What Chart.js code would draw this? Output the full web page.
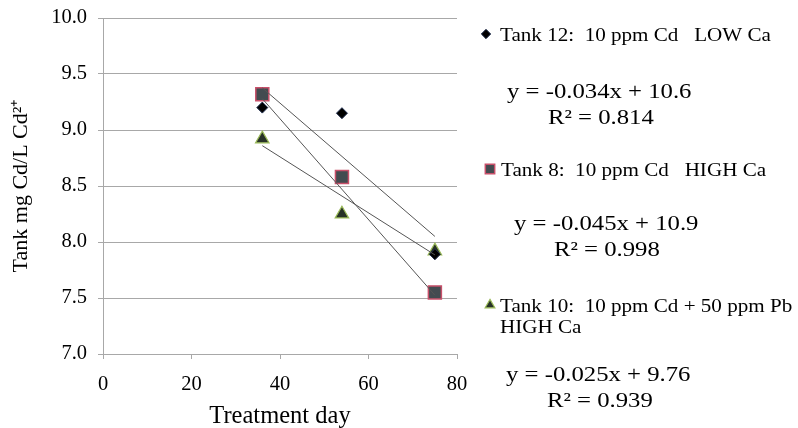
<!DOCTYPE html>
<html>
<head>
<meta charset="utf-8">
<script src="https://cdn.jsdelivr.net/npm/chart.js"></script>
<style>
  html, body { margin: 0; padding: 0; background: #fff; }
  #wrap { width: 798px; height: 428px; }
</style>
</head>
<body>
<div id="wrap"><canvas id="cdChart" width="798" height="428"></canvas></div>
<script>
// Sampling days and Cd concentration per tank
const days = [36, 54, 75];
const tank12 = [9.2, 9.15, 7.89];
const tank8 = [9.32, 8.58, 7.55];
const tank10 = [8.92, 8.25, 7.92];

const seriesNames = [
    'Tank 12:  10 ppm Cd   LOW Ca',
    'Tank 8:  10 ppm Cd   HIGH Ca',
    'Tank 10:  10 ppm Cd + 50 ppm Pb'
];
const seriesNote = ['', '', 'HIGH Ca'];

// linear trendlines (Excel style)
const slopes = [-0.034, -0.045, -0.025];
const intercepts = [10.6, 10.9, 9.76];
const rSquared = [0.814, 0.998, 0.939];

const yTicks = [7.0, 7.5, 8.0, 8.5, 9.0, 9.5, 10.0];
const xTicks = [0, 20, 40, 60, 80];

const serif = "'Liberation Serif', 'Times New Roman', serif";
const gridColor = '#a8a8a8';

const markers = [
    { pointStyle: 'rectRot', radius: 5.5, backgroundColor: '#000000', borderColor: '#1c2a4a', borderWidth: 1 },
    { pointStyle: 'rect', radius: 9.2, backgroundColor: '#434b50', borderColor: '#c8506a', borderWidth: 1.5 },
    { pointStyle: 'triangle', radius: 7.8, backgroundColor: '#283228', borderColor: '#9bbb59', borderWidth: 1.2 }
];

function toPoints(ys) {
    return days.map((d, i) => ({ x: d, y: ys[i] }));
}

function trendPoints(k) {
    const x0 = Math.min(...days), x1 = Math.max(...days);
    return [x0, x1].map(x => ({ x: x, y: slopes[k] * x + intercepts[k] }));
}

const seriesData = [tank12, tank8, tank10];

const datasets = [];
seriesData.forEach((ys, k) => {
    datasets.push({
        label: seriesNames[k],
        data: toPoints(ys),
        showLine: false,
        pointStyle: markers[k].pointStyle,
        pointRadius: markers[k].radius,
        pointBackgroundColor: markers[k].backgroundColor,
        pointBorderColor: markers[k].borderColor,
        pointBorderWidth: markers[k].borderWidth,
        order: 2
    });
});
seriesData.forEach((ys, k) => {
    datasets.push({
        label: 'Linear (' + seriesNames[k] + ')',
        data: trendPoints(k),
        showLine: true,
        borderColor: '#555555',
        borderWidth: 1,
        pointRadius: 0,
        fill: false,
        order: 1
    });
});

// horizontally stretched text
function stretchText(ctx, text, x, y, size, sx) {
    ctx.save();
    ctx.font = size + 'px ' + serif;
    ctx.translate(x, y);
    ctx.scale(sx, 1);
    ctx.fillText(text, 0, 0);
    ctx.restore();
}

// right-hand legend with trendline equations
const sideLegend = {
    id: 'sideLegend',
    afterDraw(chart) {
        const ctx = chart.ctx;
        const rows = [
            { mark: [486, 34], name: [500, 41], eq: [507, 98], r2: [548, 124] },
            { mark: [490, 169], name: [501, 176], eq: [514, 230], r2: [554, 256] },
            { mark: [490, 305], name: [500, 312], note: [500, 333], eq: [506, 381], r2: [547, 407] }
        ];
        ctx.save();
        ctx.fillStyle = '#000';
        ctx.textBaseline = 'alphabetic';
        ctx.textAlign = 'left';
        rows.forEach((r, k) => {
            const m = markers[k];
            ctx.fillStyle = m.backgroundColor;
            ctx.strokeStyle = m.borderColor;
            ctx.lineWidth = m.borderWidth;
            const scale = k === 0 ? 0.85 : 0.72;
            Chart.helpers.drawPoint(ctx, {
                pointStyle: m.pointStyle,
                radius: m.radius * scale,
                rotation: 0,
                borderWidth: m.borderWidth
            }, r.mark[0], r.mark[1]);
            ctx.fillStyle = '#000';
            stretchText(ctx, seriesNames[k], r.name[0], r.name[1], 19, 1.11);
            if (r.note) stretchText(ctx, seriesNote[k], r.note[0], r.note[1], 19, 1.11);
            const eq = 'y = ' + slopes[k] + 'x + ' + intercepts[k];
            stretchText(ctx, eq, r.eq[0], r.eq[1], 21.5, 1.15);
            stretchText(ctx, 'R\u00b2 = ' + rSquared[k], r.r2[0], r.r2[1], 21.5, 1.15);
        });
        ctx.restore();
    }
};

new Chart(document.getElementById('cdChart'), {
    type: 'scatter',
    data: { datasets: datasets },
    options: {
        responsive: false,
        animation: false,
        layout: { padding: { left: 0, top: 18, right: 341, bottom: 0 } },
        plugins: {
            legend: { display: false },
            tooltip: { enabled: false }
        },
        scales: {
            x: {
                type: 'linear',
                min: 0,
                max: 80,
                afterBuildTicks: s => { s.ticks = xTicks.map(v => ({ value: v })); },
                afterFit: s => { s.height = 74; s.paddingLeft = 0; s.paddingRight = 0; },
                ticks: {
                    color: '#000',
                    padding: 13,
                    font: { family: serif, size: 20.5 }
                },
                grid: { drawOnChartArea: false, tickLength: 5, color: gridColor },
                border: { color: gridColor },
                title: {
                    display: true,
                    text: 'Treatment day',
                    color: '#000',
                    padding: { top: -3, bottom: -3 },
                    font: { family: serif, size: 24.5 }
                }
            },
            y: {
                min: 7,
                max: 10,
                afterBuildTicks: s => { s.ticks = yTicks.map(v => ({ value: v })); },
                afterFit: s => { s.width = 103; s.paddingTop = 0; s.paddingBottom = 0; },
                ticks: {
                    color: '#000',
                    padding: 11,
                    font: { family: serif, size: 20.5 },
                    callback: v => Number(v).toFixed(1)
                },
                grid: { tickLength: 5, color: gridColor },
                border: { color: gridColor },
                title: {
                    display: true,
                    text: 'Tank mg Cd/L Cd\u00b2\u207a',
                    color: '#000',
                    padding: { top: 8, bottom: 0 },
                    font: { family: serif, size: 22 }
                }
            }
        }
    },
    plugins: [sideLegend]
});
</script>
</body>
</html>
